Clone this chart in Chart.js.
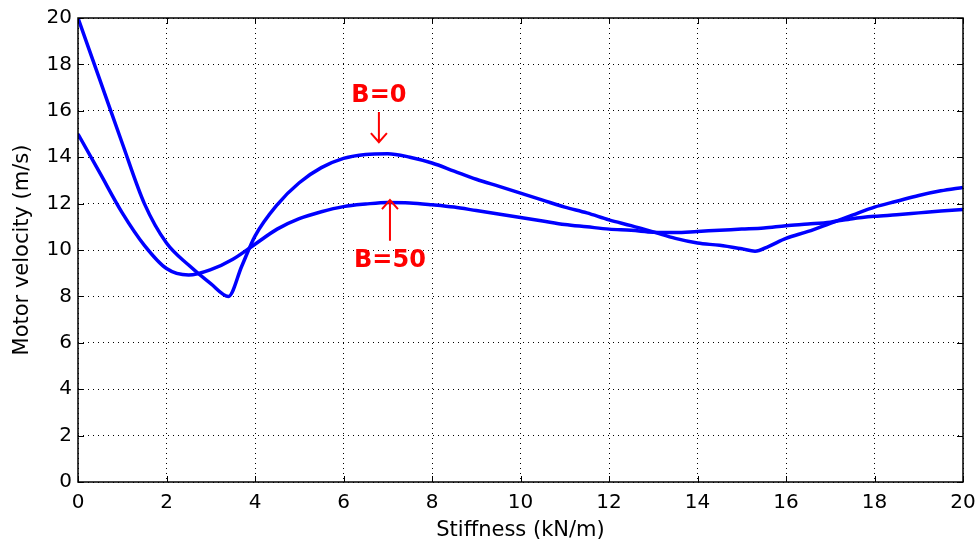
<!DOCTYPE html>
<html>
<head>
<meta charset="utf-8">
<script src="https://cdn.jsdelivr.net/npm/chart.js@4/dist/chart.umd.min.js"></script>
<style>
  html, body { margin: 0; padding: 0; background: #fff; }
  #wrap { width: 980px; height: 543px; position: relative; }
</style>
</head>
<body>
<div id="wrap"><canvas id="myChart"></canvas></div>
<script>
// stiffness values (kN/m)
var stiffness = [0, 0.5, 1, 1.5, 2, 2.5, 3, 3.4, 3.7, 4, 4.5, 5, 5.5, 6, 6.5, 7, 7.5, 8, 8.5, 9, 9.5, 10,
  10.5, 11, 11.5, 12, 12.5, 13, 13.5, 14, 14.5, 15, 15.3, 15.6, 16, 16.5, 17, 17.5, 18, 18.5, 19, 19.5, 20];
var velB0 = [20, 17.3, 14.6, 12.0, 10.3, 9.35, 8.55, 8.0, 9.3, 10.6, 11.95, 12.9, 13.55, 13.95, 14.12, 14.15, 14.0, 13.75, 13.4, 13.05, 12.75, 12.45,
  12.15, 11.85, 11.6, 11.3, 11.05, 10.78, 10.5, 10.3, 10.2, 10.05, 9.95, 10.15, 10.5, 10.8, 11.15, 11.5, 11.85, 12.1, 12.35, 12.55, 12.7];

var stiffness50 = [0, 0.5, 1, 1.5, 2, 2.5, 3, 3.5, 4, 4.5, 5, 5.5, 6, 6.5, 7, 7.5, 8, 8.5, 9, 9.5, 10,
  10.5, 11, 11.5, 12, 12.5, 13, 13.5, 14, 14.5, 15, 15.5, 16, 16.5, 17, 17.5, 18, 18.5, 19, 19.5, 20];
var velB50 = [15.0, 13.3, 11.6, 10.2, 9.2, 8.92, 9.15, 9.6, 10.25, 10.9, 11.35, 11.65, 11.87, 11.98, 12.05, 12.03, 11.95, 11.85, 11.7, 11.55, 11.4,
  11.25, 11.1, 11.0, 10.9, 10.85, 10.77, 10.75, 10.8, 10.85, 10.9, 10.95, 11.05, 11.12, 11.2, 11.35, 11.45, 11.52, 11.6, 11.68, 11.75];

var xTicks = [0, 2, 4, 6, 8, 10, 12, 14, 16, 18, 20];
var yTicks = [0, 2, 4, 6, 8, 10, 12, 14, 16, 18, 20];

// annotation labels: [text, x, y, arrow from y, arrow to y]
var notes = [
  ['B=0', 6.8, 16.65, 15.95, 14.65],
  ['B=50', 7.05, 9.55, 10.4, 12.15]
];

function toPoints(xs, ys) {
  return xs.map(function(x, i) { return { x: x, y: ys[i] }; });
}

var fontName = "'DejaVu Sans', sans-serif";

var framePlugin = {
  id: 'frame',
  afterDraw: function(chart) {
    var ctx = chart.ctx;
    var a = chart.chartArea;
    var xs = chart.scales.x, ys = chart.scales.y;
    ctx.save();
    ctx.strokeStyle = '#000';
    ctx.lineWidth = 1.5;
    ctx.strokeRect(a.left, a.top, a.right - a.left, a.bottom - a.top);
    // inward ticks on all four sides
    ctx.lineWidth = 1;
    ctx.beginPath();
    xTicks.forEach(function(t) {
      var px = Math.round(xs.getPixelForValue(t)) + 0.5;
      ctx.moveTo(px, a.bottom); ctx.lineTo(px, a.bottom - 6);
      ctx.moveTo(px, a.top); ctx.lineTo(px, a.top + 6);
    });
    yTicks.forEach(function(t) {
      var py = Math.round(ys.getPixelForValue(t)) + 0.5;
      ctx.moveTo(a.left, py); ctx.lineTo(a.left + 6, py);
      ctx.moveTo(a.right, py); ctx.lineTo(a.right - 6, py);
    });
    ctx.stroke();

    // annotations
    ctx.fillStyle = '#ff0000';
    ctx.strokeStyle = '#ff0000';
    ctx.font = 'bold 24px ' + fontName;
    ctx.textAlign = 'center';
    ctx.textBaseline = 'middle';
    notes.forEach(function(n) {
      var px = xs.getPixelForValue(n[1]);
      ctx.fillText(n[0], px, ys.getPixelForValue(n[2]));
      var y1 = ys.getPixelForValue(n[3]), y2 = ys.getPixelForValue(n[4]);
      var dir = y2 > y1 ? 1 : -1;
      ctx.lineWidth = 2;
      ctx.beginPath();
      ctx.moveTo(px, y1); ctx.lineTo(px, y2);
      ctx.moveTo(px - 8, y2 - dir * 9); ctx.lineTo(px, y2); ctx.lineTo(px + 8, y2 - dir * 9);
      ctx.stroke();
    });
    ctx.restore();
  }
};

var ctx = document.getElementById('myChart').getContext('2d');

var myChart = new Chart(ctx, {
  type: 'line',
  data: {
    datasets: [{
      label: 'B=0',
      data: toPoints(stiffness, velB0),
      borderColor: '#0000ff',
      borderWidth: 3.5,
      pointRadius: 0,
      cubicInterpolationMode: 'monotone',
      fill: false
    }, {
      label: 'B=50',
      data: toPoints(stiffness50, velB50),
      borderColor: '#0000ff',
      borderWidth: 3.5,
      pointRadius: 0,
      cubicInterpolationMode: 'monotone',
      fill: false
    }]
  },
  options: {
    responsive: true,
    maintainAspectRatio: false,
    animation: false,
    layout: { padding: { top: 18, right: 17, left: 10, bottom: 0 } },
    plugins: {
      legend: { display: false },
      tooltip: { enabled: false }
    },
    scales: {
      x: {
        type: 'linear',
        min: 0, max: 20,
        afterBuildTicks: function(s) { s.ticks = xTicks.map(function(v) { return { value: v }; }); },
        afterFit: function(s) { s.height = 61; s.paddingLeft = 0; s.paddingRight = 0; },
        grid: { color: '#000', lineWidth: 1, drawTicks: false },
        border: { display: false, dash: [1, 4] },
        ticks: { color: '#000', font: { family: fontName, size: 20 }, padding: 9, maxRotation: 0 },
        title: { display: true, text: 'Stiffness (kN/m)', color: '#000', font: { family: fontName, size: 21 }, padding: { top: 0, bottom: 0 } }
      },
      y: {
        min: 0, max: 20,
        afterBuildTicks: function(s) { s.ticks = yTicks.map(function(v) { return { value: v }; }); },
        afterFit: function(s) { s.width = 68; s.paddingTop = 0; s.paddingBottom = 0; },
        grid: { color: '#000', lineWidth: 1, drawTicks: false },
        border: { display: false, dash: [1, 4] },
        ticks: { color: '#000', font: { family: fontName, size: 20 }, padding: 6 },
        title: { display: true, text: 'Motor velocity (m/s)', color: '#000', font: { family: fontName, size: 21 }, padding: { top: 0, bottom: 4 } }
      }
    }
  },
  plugins: [framePlugin]
});
</script>
</body>
</html>
